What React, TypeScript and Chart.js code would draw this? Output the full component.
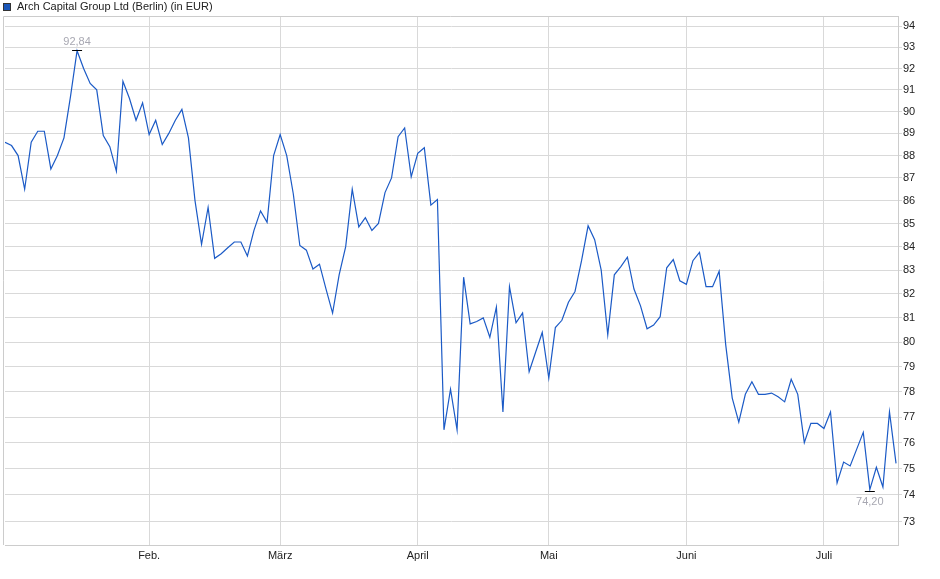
import React, { useEffect, useRef } from 'react';
import Chart from 'chart.js/auto';

// daily closes (Berlin, EUR), 2 Jan - 15 Jul, one per trading day
const closes: number[] = [
  88.6, 88.45, 88.0, 86.5, 88.6, 89.1, 89.1, 87.4, 88.0, 88.8,
  90.7, 92.84, 92.0, 91.3, 91.0, 88.9, 88.4, 87.3, 91.4, 90.6,
  89.6, 90.4, 88.95, 89.6, 88.5, 89.0, 89.6, 90.1, 88.8, 86.0,
  84.1, 85.7, 83.5, 83.7, 83.95, 84.2, 84.2, 83.6, 84.7, 85.55,
  85.05, 88.0, 88.95, 88.0, 86.3, 84.05, 83.85, 83.05, 83.25, 82.2,
  81.2, 82.8, 84.0, 86.5, 84.85, 85.25, 84.7, 85.0, 86.35, 87.0,
  88.85, 89.25, 87.05, 88.1, 88.35, 85.8, 86.05, 76.5, 78.1, 76.5,
  82.7, 80.75, 80.85, 81.0, 80.2, 81.45, 77.2, 82.3, 80.8, 81.2,
  78.8, 79.6, 80.4, 78.55, 80.6, 80.9, 81.65, 82.1, 83.4, 84.9,
  84.3, 83.0, 80.3, 82.8, 83.15, 83.55, 82.2, 81.5, 80.55, 80.7,
  81.05, 83.1, 83.45, 82.55, 82.4, 83.4, 83.75, 82.3, 82.3, 82.95,
  79.9, 77.75, 76.8, 77.9, 78.4, 77.9, 77.9, 77.95, 77.8, 77.6,
  78.5, 77.9, 76.0, 76.75, 76.75, 76.55, 77.2, 74.45, 75.25, 75.1,
  75.75, 76.4, 74.2, 75.05, 74.3, 77.2, 75.2,
];

// index of the first trading day of each month
const monthStarts: number[] = [22, 42, 63, 83, 104, 125];
const monthLabels: string[] = ['Feb.', 'März', 'April', 'Mai', 'Juni', 'Juli'];

const yTicks: number[] = [73, 74, 75, 76, 77, 78, 79, 80, 81, 82, 83, 84, 85, 86, 87, 88, 89, 90, 91, 92, 93, 94];

const title = 'Arch Capital Group Ltd (Berlin) (in EUR)';
const FONT = 'Liberation Sans, Arial, sans-serif';
const LINE = '#1b5ac6';
const GRID = '#d9d9d9';

const fmt = (v: number) => v.toFixed(2).replace('.', ',');

const extras = {
  id: 'extras',
  afterDraw(chart: any) {
    const { ctx, chartArea, scales } = chart;
    ctx.save();

    // frame top + left
    ctx.strokeStyle = '#cccccc';
    ctx.lineWidth = 1;
    ctx.beginPath();
    ctx.moveTo(chartArea.left - 2 + 0.5, chartArea.bottom);
    ctx.lineTo(chartArea.left - 2 + 0.5, chartArea.top + 0.5);
    ctx.lineTo(chartArea.right, chartArea.top + 0.5);
    ctx.stroke();

    // legend
    ctx.fillStyle = '#1a56b8';
    ctx.fillRect(3, 3, 8, 8);
    ctx.strokeStyle = '#333';
    ctx.strokeRect(3.5, 3.5, 7, 7);
    ctx.fillStyle = '#222';
    ctx.font = `11px ${FONT}`;
    ctx.textBaseline = 'middle';
    ctx.textAlign = 'left';
    ctx.fillText(title, 17, 7);

    // high / low markers
    let hi = 0;
    let lo = 0;
    closes.forEach((v, i) => {
      if (v > closes[hi]) hi = i;
      if (v < closes[lo]) lo = i;
    });
    ctx.font = `11px ${FONT}`;
    ctx.textAlign = 'center';
    ctx.strokeStyle = '#000';
    const mark = (idx: number, above: boolean) => {
      const x = scales.x.getPixelForValue(idx);
      const y = scales.y.getPixelForValue(closes[idx]);
      const by = Math.round(above ? y - 1 : y + 1) + 0.5;
      ctx.beginPath();
      ctx.moveTo(x - 5, by);
      ctx.lineTo(x + 5, by);
      ctx.stroke();
      ctx.fillStyle = '#a8a8b2';
      ctx.fillText(fmt(closes[idx]), x, above ? by - 9 : by + 10);
    };
    mark(hi, true);
    mark(lo, false);
    ctx.restore();
  },
};

const App: React.FC = () => {
  const canvasRef = useRef<HTMLCanvasElement | null>(null);
  const chartRef = useRef<Chart | null>(null);

  useEffect(() => {
    const el = canvasRef.current;
    if (!el) return;
    if (chartRef.current) chartRef.current.destroy();

    chartRef.current = new Chart(el, {
      type: 'line',
      data: {
        datasets: [{
          label: title,
          data: closes.map((v, i) => ({ x: i, y: v })),
          borderColor: LINE,
          borderWidth: 1.2,
          pointRadius: 0,
          tension: 0,
          fill: false,
        }],
      },
      options: {
        animation: false,
        responsive: true,
        maintainAspectRatio: false,
        layout: { padding: { left: 5, top: 16, right: 0, bottom: 0 } },
        plugins: {
          legend: { display: false },
          tooltip: { enabled: false },
        },
        scales: {
          x: {
            type: 'linear',
            min: 0,
            max: 136.3,
            afterBuildTicks: (s: any) => {
              s.ticks = monthStarts.map((v) => ({ value: v }));
            },
            afterFit: (s: any) => { s.height = 34; },
            grid: { color: GRID, drawTicks: false },
            border: { color: '#cccccc' },
            ticks: {
              autoSkip: false,
              maxRotation: 0,
              padding: 4,
              color: '#222',
              font: { family: FONT, size: 11 },
              callback: (v: any) => monthLabels[monthStarts.indexOf(Number(v))] ?? '',
            },
          },
          y: {
            type: 'logarithmic',
            position: 'right',
            min: 72.13,
            max: 94.5,
            afterBuildTicks: (s: any) => {
              s.ticks = yTicks.map((v) => ({ value: v }));
            },
            afterFit: (s: any) => { s.width = 42; },
            grid: { color: GRID, tickLength: 4 },
            border: { color: '#cccccc' },
            ticks: {
              autoSkip: false,
              padding: 1,
              color: '#222',
              font: { family: FONT, size: 11 },
              callback: (v: any) => String(v),
            },
          },
        },
      },
      plugins: [extras],
    });

    return () => {
      if (chartRef.current) {
        chartRef.current.destroy();
        chartRef.current = null;
      }
    };
  }, []);

  return (
    <div style={{ position: 'fixed', left: 0, top: 0, width: '940px', height: '579px', background: '#fff' }}>
      <canvas ref={canvasRef}></canvas>
    </div>
  );
};

export default App;
